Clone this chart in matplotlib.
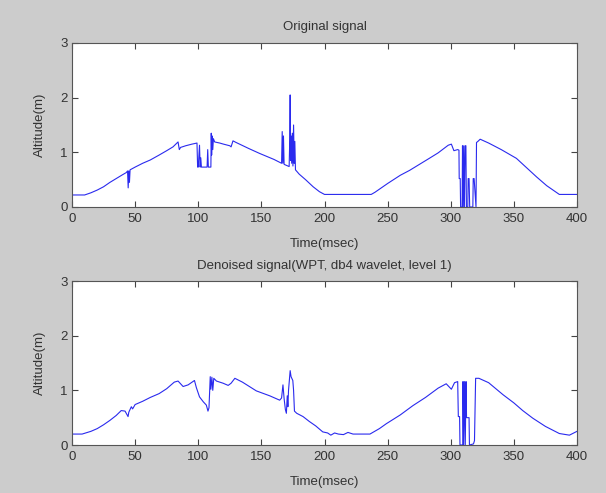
import matplotlib
matplotlib.use("Agg")
import matplotlib.pyplot as plt

# ---------------- data ----------------
orig_t = [0, 10, 15, 20, 25, 30, 35, 40, 43, 44, 44.5, 45, 45.5, 46, 50, 56, 62, 69, 75, 80, 84,
          85, 86, 90, 95, 99, 99.5, 100, 101, 101.5, 102, 102.5, 107, 107.5, 108, 110, 110.3, 110.6,
          111, 111.5, 112, 113, 117, 120, 125, 126, 127.5, 130, 140, 148.6, 160, 166, 166.5, 167,
          167.5, 168, 172, 172.5, 172.8, 173.1, 173.5, 174, 174.5, 175, 175.5, 176, 176.5, 177,
          180, 185, 191, 196, 200, 237, 240, 250, 260, 267.4, 283, 290, 298, 300.5, 302.5, 305.5,
          306.5, 306.7, 307.5, 307.8, 309, 309.3, 309.8, 310.3, 310.8, 311.4, 312.0, 312.4, 313.5,
          313.8, 314.5, 315.0, 317.5, 317.8, 318.5, 320.0, 320.4, 321.5, 323.3, 330, 340, 352,
          360, 368, 376, 386, 400]
orig_v = [0.22, 0.22, 0.26, 0.31, 0.37, 0.45, 0.52, 0.59, 0.63, 0.66, 0.35, 0.66, 0.45, 0.68, 0.73,
          0.80, 0.86, 0.95, 1.03, 1.10, 1.19,
          1.05, 1.09, 1.12, 1.15, 1.17, 0.73, 0.73, 1.13, 0.73, 0.90, 0.73, 0.73, 1.05, 0.73, 0.73,
          1.35, 0.95,
          1.30, 1.05, 1.25, 1.19, 1.17, 1.15, 1.12, 1.10, 1.21, 1.18, 1.07, 0.98, 0.87, 0.80, 1.38,
          0.80,
          1.30, 0.78, 0.74, 1.25, 2.05, 0.85, 1.30, 0.80, 1.35, 0.75, 1.50, 0.80, 1.20, 0.68,
          0.60, 0.50, 0.37, 0.28, 0.23, 0.23, 0.27, 0.43, 0.58, 0.67, 0.89, 0.99, 1.13, 1.15, 1.03,
          1.05,
          1.04, 0.52, 0.52, 0.0, 0.0, 1.12, 0.0, 1.12, 0.0, 1.12, 1.12, 0.0, 0.0,
          0.52, 0.52, 0.0, 0.0, 0.52, 0.52, 0.0, 1.18, 1.20, 1.24, 1.17, 1.05, 0.89,
          0.72, 0.55, 0.39, 0.23, 0.23]

den_t = [0, 8, 15, 20, 25, 30, 35, 39, 42, 44.4, 45, 47, 48, 50, 56, 62, 69, 75, 81, 84, 86, 88,
         92, 97, 98.5, 101, 104, 106.4, 107.7, 108.5, 109.5, 110, 110.8, 111.5, 112.3, 114.4,
         119.7, 123.7, 126, 129, 135, 146, 156.6, 164.5, 166, 167.1, 168, 169, 169.8, 170.5, 171,
         171.5, 172.8, 173.5, 174.9, 175.5, 176.2, 178, 183, 188, 193, 198.6, 202.5, 205, 208,
         211, 215, 218.6, 222.6, 236, 243.5, 249, 260, 270, 280, 290, 296.4, 300.5, 303, 305.5,
         306, 307, 307.3, 309.5, 309.7, 310.2, 310.8, 311.5, 312.1, 312.5, 314.5, 314.8, 318,
         318.8, 319.7, 322.3, 330, 341.4, 350, 357, 365, 375, 386, 394, 400]
den_v = [0.20, 0.20, 0.25, 0.30, 0.37, 0.45, 0.54, 0.63, 0.62, 0.52, 0.60, 0.70, 0.66, 0.74, 0.80,
         0.87, 0.94, 1.03, 1.15, 1.17, 1.12, 1.07,
         1.10, 1.18, 1.05, 0.88, 0.79, 0.73, 0.62, 0.68, 1.25, 1.02, 1.24, 1.00, 1.22, 1.17,
         1.13, 1.09, 1.13, 1.22, 1.15, 0.99, 0.90, 0.82, 0.86, 1.10, 0.85, 0.65, 0.58, 0.90, 0.70,
         1.00, 1.36, 1.25, 1.18, 1.00, 0.62, 0.58, 0.52, 0.43, 0.35, 0.24, 0.22, 0.18, 0.22,
         0.20, 0.19, 0.23, 0.20, 0.20, 0.30, 0.39, 0.55, 0.72, 0.87, 1.04, 1.12, 1.02, 1.14, 1.16,
         0.52, 0.52, 0.0, 0.0, 1.16, 0.0, 1.16, 0.0, 1.16, 0.50, 0.50, 0.0, 0.02,
         0.08, 1.22, 1.22, 1.14, 0.92, 0.77, 0.63, 0.49, 0.34, 0.21, 0.18, 0.25]

titles = ["Original signal", "Denoised signal(WPT, db4 wavelet, level 1)"]
xlabel = "Time(msec)"
ylabel = "Altitude(m)"
xticks = [0, 50, 100, 150, 200, 250, 300, 350, 400]
yticks = [0, 1, 2, 3]

# ---------------- figure ----------------
plt.rcParams['font.family'] = ['Liberation Sans', 'DejaVu Sans']
fig = plt.figure(figsize=(6.06, 4.93), dpi=100, facecolor='#cccccc')

W, H = 606, 493
boxes = [(72, 43, 577, 207), (72, 281, 577, 445)]
series = [(orig_t, orig_v), (den_t, den_v)]
txtc = '#333333'
fs = 9.5
for (x0, y0, x1, y1), (t, v), ttl in zip(boxes, series, titles):
    ax = fig.add_axes([x0 / W, 1 - y1 / H, (x1 - x0) / W, (y1 - y0) / H])
    ax.set_facecolor('white')
    ax.plot(t, v, color='#2a2aee', lw=0.8)
    ax.set_xlim(0, 400)
    ax.set_ylim(0, 3)
    ax.set_xticks(xticks)
    ax.set_yticks(yticks)
    ax.tick_params(direction='in', top=True, right=True, length=4, width=0.8,
                   labelsize=fs, colors='#444444', labelcolor=txtc)
    ax.tick_params(axis='x', pad=4)
    ax.tick_params(axis='y', pad=3)
    for s in ax.spines.values():
        s.set_color('#555555')
        s.set_linewidth(0.8)
    ax.set_title(ttl, fontsize=fs, color=txtc, pad=9)
    ax.set_xlabel(xlabel, fontsize=fs, color=txtc, labelpad=10)
    ax.set_ylabel(ylabel, fontsize=fs, color=txtc, labelpad=10)

fig.savefig("out.png", dpi=100, facecolor=fig.get_facecolor())
